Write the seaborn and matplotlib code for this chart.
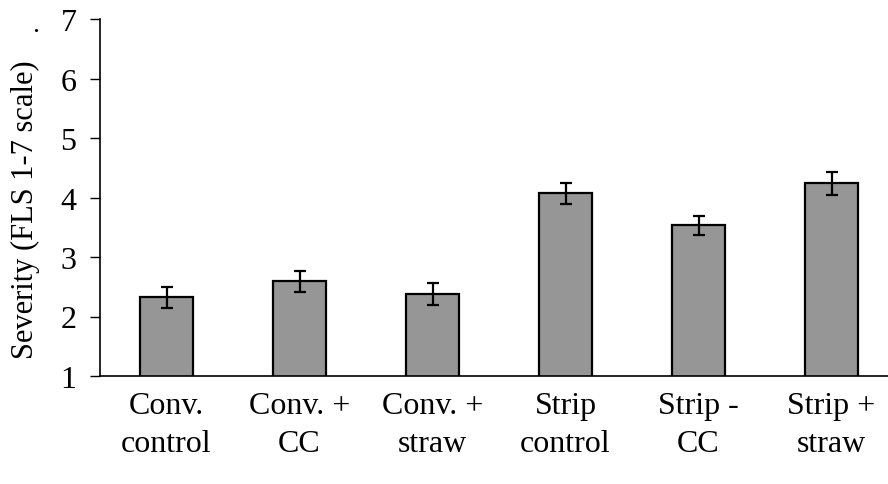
import matplotlib
matplotlib.use("Agg")
import matplotlib.pyplot as plt
import seaborn as sns
import pandas as pd

# Disease severity by tillage / residue treatment
treatments = ["Conv.\ncontrol", "Conv. +\nCC", "Conv. +\nstraw",
              "Strip\ncontrol", "Strip -\nCC", "Strip +\nstraw"]
severity = [2.32, 2.59, 2.38, 4.07, 3.53, 4.24]
std_err = [0.17, 0.18, 0.18, 0.18, 0.16, 0.19]
y_ticks = [1, 2, 3, 4, 5, 6, 7]

sns.set_theme(style="white")
plt.rcParams["font.family"] = ["Liberation Serif", "DejaVu Serif"]

df = pd.DataFrame({"treatment": treatments, "severity": severity})

fig = plt.figure(figsize=(8.88, 4.85), dpi=100)
ax = fig.add_axes([100 / 888, 108 / 485, 798 / 888, 357 / 485])

sns.barplot(data=df, x="treatment", y="severity", ax=ax, color="#969696",
            saturation=1, width=0.4, edgecolor="black", linewidth=1.6,
            errorbar=None)
ax.errorbar(range(len(treatments)), severity, yerr=std_err, fmt="none",
            ecolor="black", elinewidth=1.6, capsize=4, capthick=1.6)

ax.set_ylim(1, 7)
ax.set_xlim(-0.5, len(treatments) - 0.5)
ax.set_yticks(y_ticks)
ax.set_yticklabels([str(t) for t in y_ticks])

for side in ["top", "right"]:
    ax.spines[side].set_visible(False)
for side in ["left", "bottom"]:
    ax.spines[side].set_color("black")
    ax.spines[side].set_linewidth(1.2)

ax.tick_params(axis="y", which="major", direction="out", length=7,
               width=1.0, color="black", pad=10, labelsize=23,
               labelcolor="black", left=True)
ax.tick_params(axis="x", length=0, pad=11, labelsize=23, labelcolor="black")
for lbl in ax.get_xticklabels():
    lbl.set_linespacing(1.4)

ax.set_xlabel("")
ax.set_ylabel("Severity (FLS 1-7 scale)", fontsize=22, color="black",
              va="center")
ax.yaxis.set_label_coords(-0.094, 0.468)
fig.text(36 / 888, 1 - 26 / 485, ".", fontsize=20, ha="center",
         va="center", color="black")

fig.savefig("out.png", dpi=100)
